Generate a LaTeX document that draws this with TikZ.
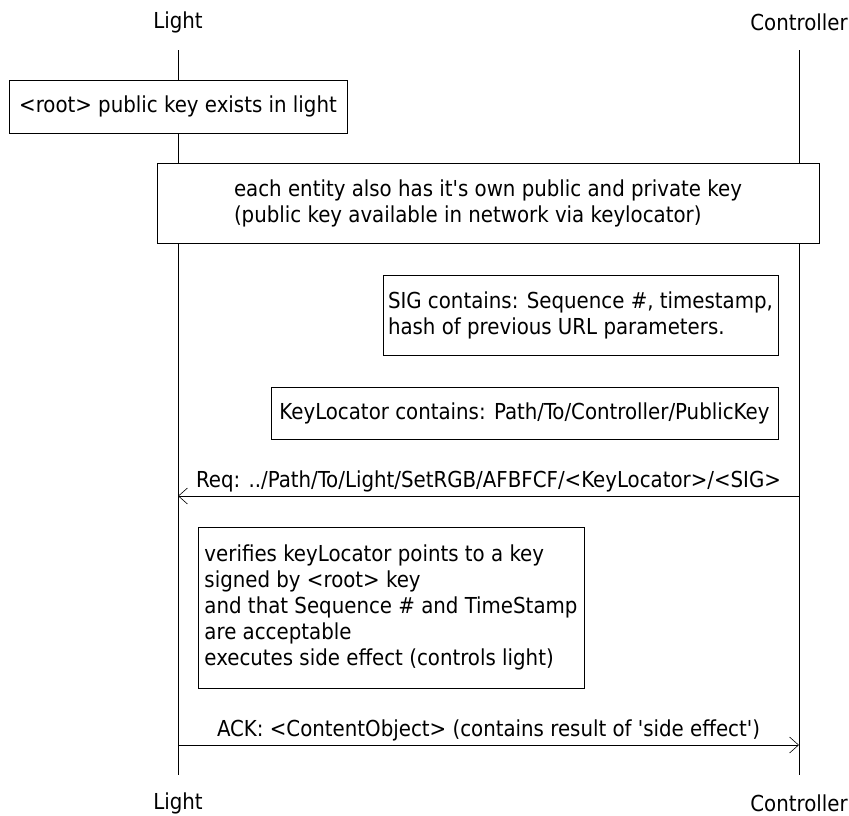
\documentclass[tikz,border=0pt]{standalone}
\usepackage{fontspec}
\setmainfont{DejaVu Sans Condensed}
\usetikzlibrary{arrows.meta}

\begin{document}
\begin{tikzpicture}[>={Straight Barb[length=9pt,width=16pt]}, x=1pt, y=-1pt,
		font=\fontsize{22}{26}\selectfont,
		note/.style={draw, fill=white, align=left, inner sep=0pt},
		msg/.style={->, semithick}]
			\useasboundingbox (0,0) rectangle (849,815);
			% lifelines
			\node (lightTop) at (178,22) {Light};
			\node (ctrlTop) at (799,22) {Controller};
			\node (lightBot) at (178,803) {Light};
			\node (ctrlBot) at (799,803) {Controller};
			\coordinate (L1) at (178,50);
			\coordinate (L2) at (178,775);
			\coordinate (C1) at (799,50);
			\coordinate (C2) at (799,775);
			\draw[semithick] (L1) -- (L2);
			\draw[semithick] (C1) -- (C2);
			% notes
			\node[note, minimum width=338, minimum height=53] (root) at (178,106.5)
				{<root> public key exists in light};
			\node[note, minimum width=662, minimum height=80] (keys) at (488,203)
				{each entity also has it\textquotesingle s own public and private key\\(public key available in network via keylocator)};
			\node[note, minimum width=395, minimum height=80] (sig) at (580.5,315)
				{SIG contains: Sequence \#, timestamp,\\hash of previous URL parameters.};
			\node[note, minimum width=507, minimum height=52] (loc) at (524.5,413)
				{KeyLocator contains: Path/To/Controller/PublicKey};
			% request
			\coordinate (reqC) at (799,496);
			\coordinate (reqL) at (178,496);
			\draw[msg] (reqC) -- (reqL) node[midway, above=0pt] (req)
				{Req: ../Path/To/Light/SetRGB/AFBFCF/<KeyLocator>/<SIG>};
			\node[note, minimum width=386, minimum height=161] (verify) at (391,607.5)
				{verifies keyLocator points to a key\\signed by <root> key\\and that Sequence \# and TimeStamp\\are acceptable\\executes side effect (controls light)};
			% answer
			\coordinate (ackL) at (178,745);
			\coordinate (ackC) at (799,745);
			\draw[msg] (ackL) -- (ackC) node[midway, above=0pt] (ack)
				{ACK: <ContentObject> (contains result of \textquotesingle side effect\textquotesingle)};
\end{tikzpicture}
\end{document}
